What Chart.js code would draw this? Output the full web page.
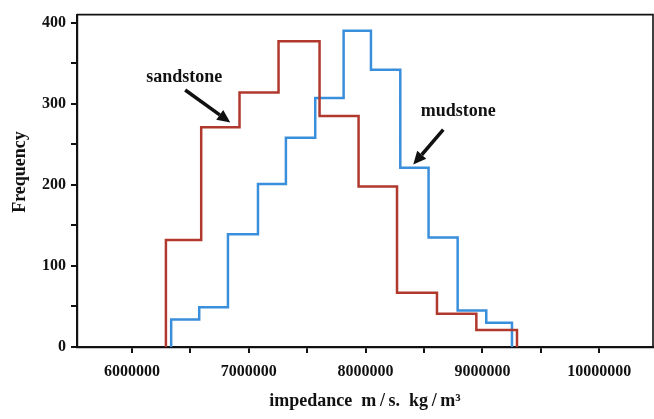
<!DOCTYPE html>
<html>
<head>
<meta charset="utf-8">
<script src="https://cdn.jsdelivr.net/npm/chart.js@4.4.1/dist/chart.umd.min.js"></script>
<style>
  html, body { margin: 0; padding: 0; background: #fff; }
  #wrap { width: 654px; height: 419px; }
</style>
</head>
<body>
<div id="wrap"><canvas id="hist"></canvas></div>
<script>
const sandEdges = [6291000, 6593000, 6921000, 7255000, 7606000, 7940000, 8269000, 8611000, 8948000, 9296000];
const sandCounts = [132, 271, 314, 377, 285, 198, 67, 41, 21];

const mudEdges = [6336000, 6576000, 6822000, 7079000, 7318000, 7569000, 7812000, 8046000, 8297000, 8539000, 8788000, 9033000, 9253000];
const mudCounts = [34, 49, 139, 201, 258, 307, 390, 342, 221, 135, 45, 30];

const xMajorTicks = [6000000, 7000000, 8000000, 9000000, 10000000];
const xMinorTicks = [6500000, 7500000, 8500000, 9500000];
const yMajorTicks = [0, 100, 200, 300, 400];
const yMinorTicks = [50, 150, 250, 350];

// Etiquetas con flecha (en unidades de datos)
const notes = [
    { text: 'sandstone', x: 6448000, y: 327, from: [6456000, 317], to: [6842000, 277] },
    { text: 'mudstone', x: 8794000, y: 285, from: [8665000, 268], to: [8408000, 225] }
];

const serif = '"Liberation Serif", "DejaVu Serif", serif';

// Contorno escalonado del histograma: (borde_i, frecuencia_i), horizontal primero
function stepOutline(edges, counts) {
    const pts = [{ x: edges[0], y: 0 }];
    counts.forEach((c, i) => pts.push({ x: edges[i], y: c }));
    pts.push({ x: edges[edges.length - 1], y: 0 });
    return pts;
}

const decor = {
    id: 'decor',
    afterDraw(chart) {
        const { ctx, chartArea: a, scales: { x, y } } = chart;
        ctx.save();
        // marco superior y derecho
        ctx.strokeStyle = '#111';
        ctx.lineWidth = 1.6;
        ctx.beginPath();
        ctx.moveTo(a.left, a.top);
        ctx.lineTo(a.right, a.top);
        ctx.lineTo(a.right, a.bottom);
        ctx.stroke();

        // anotaciones
        ctx.fillStyle = '#111';
        ctx.font = 'bold 18px ' + serif;
        ctx.textAlign = 'center';
        ctx.textBaseline = 'alphabetic';
        notes.forEach(n => {
            ctx.fillText(n.text, x.getPixelForValue(n.x), y.getPixelForValue(n.y));
            const x0 = x.getPixelForValue(n.from[0]), y0 = y.getPixelForValue(n.from[1]);
            const x1 = x.getPixelForValue(n.to[0]), y1 = y.getPixelForValue(n.to[1]);
            const ang = Math.atan2(y1 - y0, x1 - x0);
            const head = 13, half = 6;
            const bx = x1 - head * Math.cos(ang), by = y1 - head * Math.sin(ang);
            ctx.lineWidth = 3.5;
            ctx.strokeStyle = '#111';
            ctx.beginPath();
            ctx.moveTo(x0, y0);
            ctx.lineTo(bx, by);
            ctx.stroke();
            ctx.beginPath();
            ctx.moveTo(x1, y1);
            ctx.lineTo(bx + half * Math.sin(ang), by - half * Math.cos(ang));
            ctx.lineTo(bx - half * Math.sin(ang), by + half * Math.cos(ang));
            ctx.closePath();
            ctx.fill();
        });

        // títulos de ejes
        ctx.font = 'bold 18px ' + serif;
        ctx.fillText('impedance  m\u2009/\u2009s.  kg\u2009/\u2009m³', (a.left + a.right) / 2, 406);
        ctx.translate(25, 172);
        ctx.rotate(-Math.PI / 2);
        ctx.font = 'bold 18px ' + serif;
        ctx.fillText('Frequency', 0, 0);
        ctx.restore();
    }
};

const lineStyle = {
    stepped: 'before',
    fill: false,
    pointRadius: 0,
    borderWidth: 2.5,
    borderJoinStyle: 'miter',
    borderCapStyle: 'butt'
};

const chart = new Chart(document.getElementById('hist'), {
    type: 'line',
    data: {
        datasets: [
            { ...lineStyle, label: 'sandstone', data: stepOutline(sandEdges, sandCounts), borderColor: '#b0382d' },
            { ...lineStyle, label: 'mudstone', data: stepOutline(mudEdges, mudCounts), borderColor: '#3a8fdc' }
        ]
    },
    options: {
        responsive: true,
        maintainAspectRatio: false,
        animation: false,
        layout: { padding: { top: 11, right: 1, left: 0, bottom: 0 } },
        plugins: { legend: { display: false }, tooltip: { enabled: false } },
        scales: {
            x: {
                type: 'linear',
                min: 5530000,
                max: 10460000,
                afterBuildTicks(s) {
                    s.ticks = xMajorTicks.concat(xMinorTicks).sort((a, b) => a - b).map(v => ({ value: v }));
                },
                afterFit(s) { s.height = 72; },
                ticks: {
                    autoSkip: false,
                    maxRotation: 0,
                    padding: 9,
                    color: '#111',
                    font: { family: serif, size: 16, weight: 'bold' },
                    callback: v => xMajorTicks.includes(v) ? String(v) : ''
                },
                grid: { drawOnChartArea: false, drawTicks: true, tickLength: 6, color: '#111', lineWidth: 2 },
                border: { display: true, color: '#111', width: 2.2 }
            },
            y: {
                min: 0,
                max: 410,
                afterBuildTicks(s) {
                    s.ticks = yMajorTicks.concat(yMinorTicks).sort((a, b) => a - b).map(v => ({ value: v }));
                },
                afterFit(s) { s.width = 77; },
                ticks: {
                    autoSkip: false,
                    padding: 5,
                    color: '#111',
                    font: { family: serif, size: 16, weight: 'bold' },
                    callback: v => yMajorTicks.includes(v) ? String(v) : ''
                },
                grid: { drawOnChartArea: false, drawTicks: true, tickLength: 6, color: '#111', lineWidth: 2 },
                border: { display: true, color: '#111', width: 2.2 }
            }
        }
    },
    plugins: [decor]
});
</script>
</body>
</html>
